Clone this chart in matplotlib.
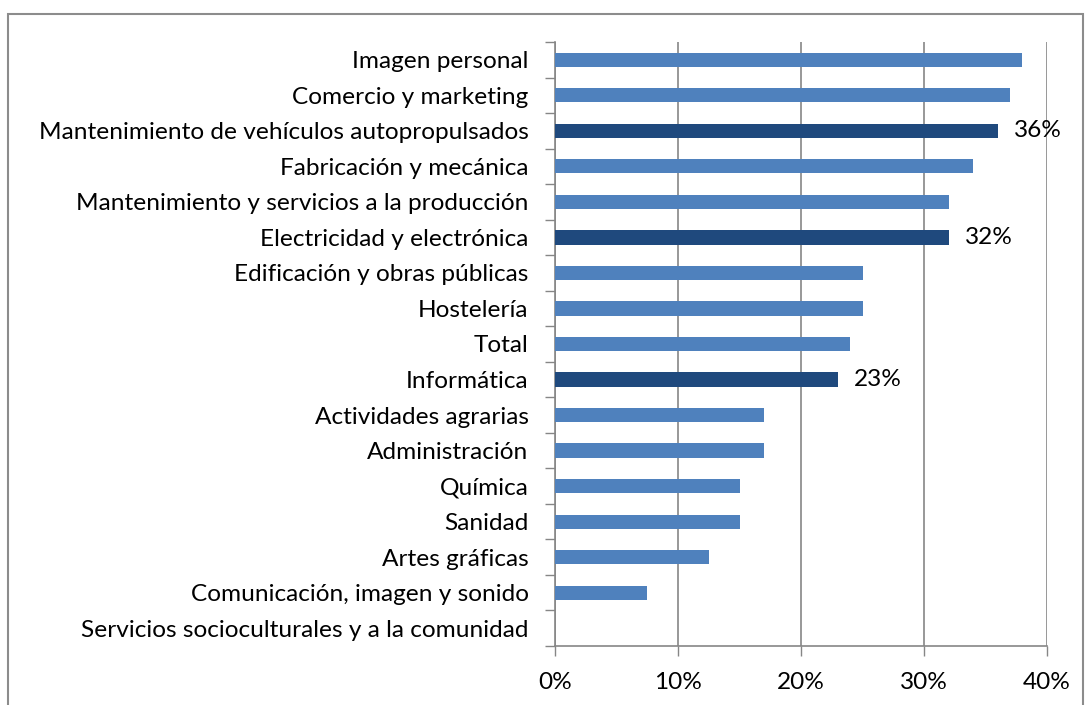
import matplotlib
matplotlib.use("Agg")
import matplotlib.pyplot as plt
import matplotlib.ticker as mticker
from matplotlib.patches import Rectangle

# ── Data ─────────────────────────────────────────────────────────────────────
categories = [
    "Imagen personal",
    "Comercio y marketing",
    "Mantenimiento de vehículos autopropulsados",
    "Fabricación y mecánica",
    "Mantenimiento y servicios a la producción",
    "Electricidad y electrónica",
    "Edificación y obras públicas",
    "Hostelería",
    "Total",
    "Informática",
    "Actividades agrarias",
    "Administración",
    "Química",
    "Sanidad",
    "Artes gráficas",
    "Comunicación, imagen y sonido",
    "Servicios socioculturales y a la comunidad",
]
values = [0.38, 0.37, 0.36, 0.34, 0.32, 0.32, 0.25, 0.25, 0.24, 0.23,
          0.17, 0.17, 0.15, 0.15, 0.125, 0.075, 0.0]
highlighted = ["Mantenimiento de vehículos autopropulsados",
               "Electricidad y electrónica",
               "Informática"]
x_ticks = [0, 0.1, 0.2, 0.3, 0.4]

LIGHT = "#4F81BD"
DARK = "#1F497D"
GRID = "#868686"
FONT = "Lato"
FS = 17.6

plt.rcParams["font.family"] = [FONT, "DejaVu Sans"]

fig = plt.figure(figsize=(10.86, 7.05), dpi=100)
ax = fig.add_axes([555 / 1086, 1 - 646 / 705, (1047 - 555) / 1086, (646 - 42) / 705])

n = len(categories)
ypos = list(range(n))
colors = [DARK if c in highlighted else LIGHT for c in categories]
ax.barh(ypos, values, height=0.4, color=colors, zorder=3)

for y, v, c in zip(ypos, values, categories):
    if c in highlighted:
        ax.text(v + 0.013, y, f"{v:.0%}", va="center", ha="left", fontsize=FS, color="black")

ax.set_ylim(n - 0.5, -0.5)
ax.set_xlim(0, 0.4)
ax.set_yticks(ypos)
ax.set_yticklabels(categories, fontsize=FS)
ax.set_xticks(x_ticks)
ax.xaxis.set_major_formatter(mticker.PercentFormatter(1.0, decimals=0))
ax.tick_params(axis="x", labelsize=FS, length=7, color=GRID, width=1, pad=12)
# category separators as ticks on the y axis
ax.yaxis.set_minor_locator(mticker.FixedLocator([i - 0.5 for i in range(n + 1)]))
ax.tick_params(axis="y", which="major", length=0, pad=19)
ax.tick_params(axis="y", which="minor", length=7, color=GRID, width=1)

ax.grid(axis="x", color=GRID, lw=1.2, zorder=0)
for s in ["top", "right"]:
    ax.spines[s].set_visible(False)
for s in ["left", "bottom"]:
    ax.spines[s].set_color(GRID)
    ax.spines[s].set_linewidth(1.2)

# outer chart border
fig.patches.append(Rectangle((8 / 1086, -0.01), (1083 - 8) / 1086, 1 - 14 / 705 + 0.01,
                             transform=fig.transFigure, fill=False,
                             edgecolor="#8C8C8C", lw=1.5))

fig.savefig("out.png", dpi=100)
